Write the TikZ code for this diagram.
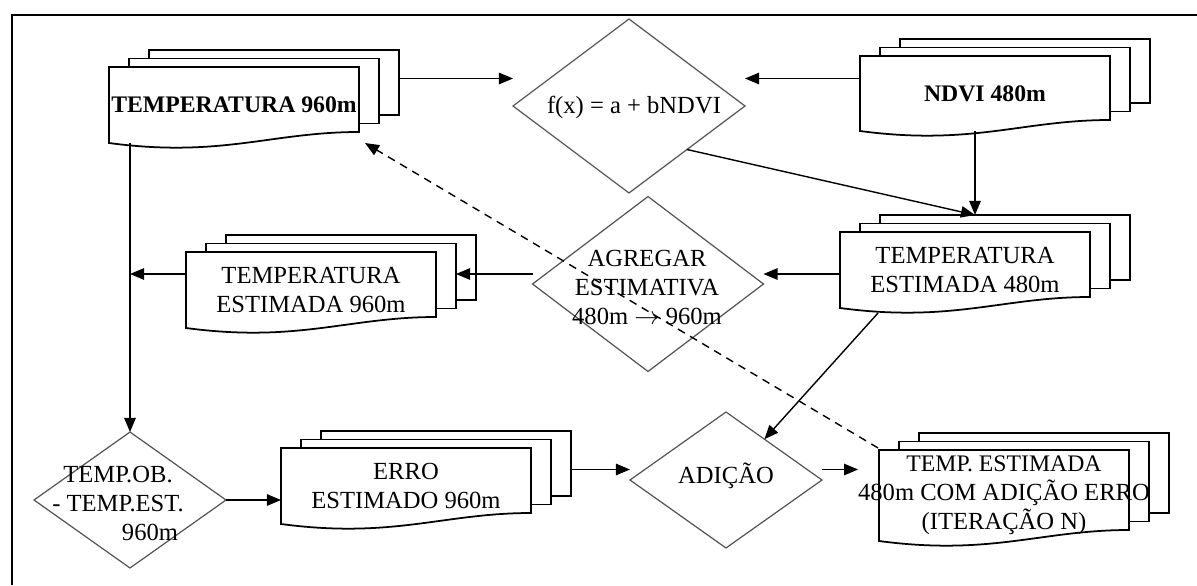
\documentclass[tikz,border=0pt]{standalone}
\usepackage{fontspec}
\setmainfont{Liberation Serif}
\usetikzlibrary{shapes.geometric,arrows.meta,calc}

\definecolor{cinza}{RGB}{85,85,85}

\tikzset{
  caixa/.style={draw=black, line width=1pt, fill=white},
  rotulo/.style={inner sep=0pt, outer sep=0pt, align=center, minimum width=5cm,
    font=\fontsize{14}{16.5}\selectfont},
  losango/.style={diamond, draw=cinza, line width=0.7pt, inner sep=0pt, outer sep=0pt},
  texto/.style={inner sep=0pt, align=center, font=\fontsize{14}{16.5}\selectfont},
  seta/.style={-{Triangle[length=8pt,width=6.5pt]}, line width=0.8pt},
}

% pilha de documentos: nome, x esquerda, y topo, altura, texto
\newcommand{\pilha}[5]{%
  \draw[caixa] (#2+40,#3-17) rectangle (#2+290,#3+#4-17);
  \draw[caixa] (#2+20,#3-8.5) rectangle (#2+270,#3+#4-8.5);
  \draw[caixa] (#2,#3) -- (#2+250,#3) -- (#2+250,#3+#4)
    .. controls (#2+162.5,#3+#4) and (#2+112.5,#3+#4+26) .. (#2,#3+#4+11) -- cycle;
  \coordinate (#1-d) at (#2+290,#3-17+#4/2);
  \node[rotulo, minimum height={(#4+11)*0.02cm}] (#1) at (#2+125,#3+#4/2+5.5) {#5};
}

\begin{document}
\begin{tikzpicture}[x=0.02cm, y=-0.02cm]
  \useasboundingbox (0,0) rectangle (1197,585);
  \draw[line width=1.1pt] (12,585) -- (12,15) -- (1197,15);

  \pilha{t960}{109}{67}{65}{\fontsize{13.5}{16.5}\selectfont\bfseries TEMPERATURA 960m}
  \pilha{ndvi}{860}{56}{64}{\fontsize{13.5}{16.5}\selectfont\bfseries NDVI 480m}
  \pilha{t480}{840}{232}{65}{TEMPERATURA\\ESTIMADA 480m}
  \pilha{t960e}{186}{252}{65}{TEMPERATURA\\ESTIMADA 960m}
  \pilha{erro}{281}{448}{65}{ERRO\\ESTIMADO 960m}
  \pilha{fin}{879}{450}{80}{\fontsize{13.5}{14}\selectfont TEMP. ESTIMADA\\480m COM ADIÇÃO ERRO\\(ITERAÇÃO N)}

  \node[losango, minimum width=4.64cm, minimum height=3.48cm] (fx) at (629,106) {};
  \node[texto] (fx-t) at (634,107) {f(x) = a + bNDVI};
  \node[losango, minimum width=4.62cm, minimum height=3.5cm] (agr) at (648,284) {};
  \node[texto] (agr-t) at (647,287) {AGREGAR\\ESTIMATIVA\\480m $\rightarrow$ 960m};
  \node[losango, minimum width=3.84cm, minimum height=2.72cm] (tob) at (130,500) {};
  \node[texto] (tob-t) at (118,503) {TEMP.OB.\\- TEMP.EST.\\\hspace*{2.6em}960m};
  \node[losango, minimum width=3.84cm, minimum height=2.72cm] (adi) at (726,480) {};
  \node[texto] (adi-t) at (726,476) {ADIÇÃO};

  \coordinate (nivel) at (0,274);
  \coordinate (topo) at ($(t960-d)+(0,-4)$);
  \coordinate (faixa) at ($(erro-d)+(0,6)$);
  \coordinate (alvo) at ($(t480.north)+(10,-17)$);

  \draw[seta] (topo) -- (topo -| fx.west);
  \draw[seta] (ndvi.west |- topo) -- (topo -| fx.east);
  \draw[seta] (ndvi.south -| alvo) -- (alvo);
  \draw[seta] (fx.south east) -- (alvo);
  \draw[seta] (t480.west |- nivel) -- (nivel -| agr.east);
  \draw[seta] (agr.west |- nivel) -- ($(t960e.east |- nivel)+(20,0)$);
  \draw[seta] (t960e.west |- nivel) -- (nivel -| tob.north);
  \draw[seta] (t960.south -| tob.north) -- (tob.north);
  \draw[seta] (tob.east) -- (tob.east -| erro.west);
  \draw[seta] (faixa) -- (faixa -| adi.west);
  \draw[seta] ($(t480.south west)+(38,5)$) -- ($(adi.north)!0.4!(adi.east)$);
  \draw[seta] (adi.east |- faixa) -- (fin.west |- faixa);
  \draw[seta, dash pattern=on 4.5pt off 3.5pt] ($(fin.north west)+(20,-2)$) -- ($(t960.south east)+(6,0)$);
\end{tikzpicture}
\end{document}
